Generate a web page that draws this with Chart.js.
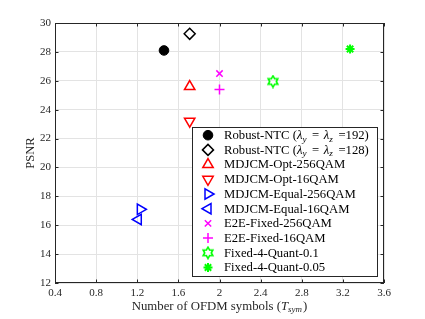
<!doctype html>
<html lang="en">
<head>
<meta charset="UTF-8" />
<title>PSNR vs OFDM symbols</title>
<script src="https://cdn.jsdelivr.net/npm/chart.js"></script>
<style>
  html, body { margin: 0; padding: 0; background: #fff; }
  .chart-container { position: relative; width: 425px; height: 319px; }
</style>
</head>
<body>
<div class="chart-container">
  <canvas id="psnrChart" width="425" height="319"></canvas>
</div>
<script>
const schemes = [
  'Robust-NTC (λ_y = λ_z =192)',
  'Robust-NTC (λ_y = λ_z =128)',
  'MDJCM-Opt-256QAM',
  'MDJCM-Opt-16QAM',
  'MDJCM-Equal-256QAM',
  'MDJCM-Equal-16QAM',
  'E2E-Fixed-256QAM',
  'E2E-Fixed-16QAM',
  'Fixed-4-Quant-0.1',
  'Fixed-4-Quant-0.05'
]
const symbols = [1.46, 1.71, 1.71, 1.71, 1.23, 1.21, 2.0, 2.0, 2.52, 3.27]
const psnr = [28.1, 29.25, 25.6, 23.2, 17.1, 16.4, 26.5, 25.4, 25.95, 28.2]
const xTicks = [0.4, 0.8, 1.2, 1.6, 2, 2.4, 2.8, 3.2, 3.6]
const yTicks = [12, 14, 16, 18, 20, 22, 24, 26, 28, 30]

const SERIF = '"Liberation Serif", "DejaVu Serif", serif'
const AXIS = '#262626'

// hexagram marker (MATLAB 'h')
function hexagram(color) {
  const c = document.createElement('canvas')
  c.width = 14
  c.height = 14
  const g = c.getContext('2d')
  const R = 5.6, r = R / Math.sqrt(3)
  g.beginPath()
  for (let k = 0; k < 12; k++) {
    const a = -Math.PI / 2 + k * Math.PI / 6
    const rr = k % 2 === 0 ? R : r
    const px = 7 + rr * Math.cos(a), py = 7 + rr * Math.sin(a)
    k === 0 ? g.moveTo(px, py) : g.lineTo(px, py)
  }
  g.closePath()
  g.strokeStyle = color
  g.lineWidth = 1.6
  g.stroke()
  return c
}

const markers = [
  { pointStyle: 'circle', radius: 4.8, color: '#000', fill: '#000', rotation: 0, width: 1 },
  { pointStyle: 'rectRot', radius: 5.5, color: '#000', fill: 'rgba(0,0,0,0)', rotation: 0, width: 1.5 },
  { pointStyle: 'triangle', radius: 6, color: '#ff0000', fill: 'rgba(0,0,0,0)', rotation: 0, width: 1.5 },
  { pointStyle: 'triangle', radius: 6, color: '#ff0000', fill: 'rgba(0,0,0,0)', rotation: 180, width: 1.5 },
  { pointStyle: 'triangle', radius: 6, color: '#0000ff', fill: 'rgba(0,0,0,0)', rotation: 90, width: 1.5 },
  { pointStyle: 'triangle', radius: 6, color: '#0000ff', fill: 'rgba(0,0,0,0)', rotation: 270, width: 1.5 },
  { pointStyle: 'crossRot', radius: 4.5, color: '#ff00ff', fill: 'rgba(0,0,0,0)', rotation: 0, width: 1.5 },
  { pointStyle: 'cross', radius: 5, color: '#ff00ff', fill: 'rgba(0,0,0,0)', rotation: 0, width: 1.5 },
  { pointStyle: hexagram('#00ff00'), radius: 6, color: '#00ff00', fill: 'rgba(0,0,0,0)', rotation: 0, width: 1.5 },
  { pointStyle: 'star', radius: 4.5, color: '#00ff00', fill: 'rgba(0,0,0,0)', rotation: 0, width: 2 }
]

// text with _x subscripts, λ in italic, wider spacing inside the math part
function drawRich(ctx, text, x, y, size) {
  const parts = text.split(/(_.|λ|\(.*)/)
  let cx = x
  const draw = (s, font, dy) => {
    ctx.font = font
    ctx.fillText(s, cx, y + dy)
    cx += ctx.measureText(s).width
  }
  parts.forEach(p => {
    if (!p) return
    if (p[0] === '(') {
      // math part: (λ_y = λ_z =192)
      p.split(/(_.|λ| )/).forEach(q => {
        if (!q) return
        if (q[0] === '_') { draw(q[1], `italic ${size * 0.72}px ${SERIF}`, size * 0.28); cx += 1 }
        else if (q === 'λ') draw(q, `italic ${size}px ${SERIF}`, 0)
        else if (q === ' ') cx += size * 0.36
        else draw(q, `${size}px ${SERIF}`, 0)
      })
    } else {
      draw(p, `${size}px ${SERIF}`, 0)
    }
  })
}

const matlabFrame = {
  id: 'matlabFrame',
  afterDraw(chart) {
    const ctx = chart.ctx
    const a = chart.chartArea
    const xs = chart.scales.x, ys = chart.scales.y
    ctx.save()
    // box
    ctx.strokeStyle = AXIS
    ctx.lineWidth = 1
    ctx.strokeRect(a.left + 0.5, a.top + 0.5, a.right - a.left - 1, a.bottom - a.top - 1)
    // inward ticks
    ctx.beginPath()
    xTicks.forEach(v => {
      const px = Math.round(xs.getPixelForValue(v)) + 0.5
      ctx.moveTo(px, a.bottom); ctx.lineTo(px, a.bottom - 3.5)
      ctx.moveTo(px, a.top); ctx.lineTo(px, a.top + 3.5)
    })
    yTicks.forEach(v => {
      const py = Math.round(ys.getPixelForValue(v)) + 0.5
      ctx.moveTo(a.left, py); ctx.lineTo(a.left + 3.5, py)
      ctx.moveTo(a.right, py); ctx.lineTo(a.right - 3.5, py)
    })
    ctx.stroke()

    // axis titles
    ctx.fillStyle = AXIS
    ctx.textBaseline = 'middle'
    ctx.save()
    ctx.translate(31, (a.top + a.bottom) / 2)
    ctx.rotate(-Math.PI / 2)
    ctx.textAlign = 'center'
    ctx.font = `12.5px ${SERIF}`
    ctx.fillText('PSNR', 0, 0)
    ctx.restore()

    ctx.textAlign = 'left'
    const size = 12.8
    ctx.font = `${size}px ${SERIF}`
    const p1 = 'Number of OFDM symbols ('
    const w1 = ctx.measureText(p1).width
    ctx.font = `italic ${size}px ${SERIF}`
    const wT = ctx.measureText('T').width
    ctx.font = `italic ${size * 0.7}px ${SERIF}`
    const wS = ctx.measureText('sym').width
    ctx.font = `${size}px ${SERIF}`
    const wP = ctx.measureText(')').width
    let tx = (a.left + a.right) / 2 - (w1 + wT + wS + wP + 1) / 2
    const ty = 307
    ctx.fillText(p1, tx, ty); tx += w1
    ctx.font = `italic ${size}px ${SERIF}`
    ctx.fillText('T', tx, ty); tx += wT
    ctx.font = `italic ${size * 0.7}px ${SERIF}`
    ctx.fillText('sym', tx, ty + 3); tx += wS + 1
    ctx.font = `${size}px ${SERIF}`
    ctx.fillText(')', tx, ty)

    // legend box
    const lx = 192.5, ly = 127.5, lw = 185, lh = 149
    ctx.fillStyle = '#fff'
    ctx.fillRect(lx, ly, lw, lh)
    ctx.strokeStyle = AXIS
    ctx.lineWidth = 1
    ctx.strokeRect(lx, ly, lw, lh)
    schemes.forEach((label, i) => {
      const rowY = 135.2 + i * 14.7
      const m = markers[i]
      ctx.fillStyle = m.fill
      ctx.strokeStyle = m.color
      ctx.lineWidth = m.width
      Chart.helpers.drawPoint(ctx, {
        pointStyle: m.pointStyle, rotation: m.rotation, radius: m.radius, borderWidth: m.width
      }, 208, rowY)
      ctx.fillStyle = '#000'
      ctx.textBaseline = 'middle'
      drawRich(ctx, label, 224, rowY + 0.5, 12.7)
    })
    ctx.restore()
  }
}

new Chart(document.getElementById('psnrChart'), {
  type: 'scatter',
  data: {
    datasets: schemes.map((label, i) => ({
      label: label,
      data: [{ x: symbols[i], y: psnr[i] }],
      pointStyle: markers[i].pointStyle,
      pointRotation: markers[i].rotation,
      pointRadius: markers[i].radius,
      pointBorderWidth: markers[i].width,
      borderColor: markers[i].color,
      backgroundColor: markers[i].fill
    }))
  },
  options: {
    responsive: false,
    animation: false,
    layout: { padding: { top: 23, right: 41, left: 0, bottom: 0 } },
    plugins: { legend: { display: false }, tooltip: { enabled: false } },
    scales: {
      x: {
        type: 'linear',
        min: 0.4,
        max: 3.6,
        afterBuildTicks: s => { s.ticks = xTicks.map(v => ({ value: v })) },
        afterFit: s => { s.height = 36 },
        grid: { color: '#e3e3e3', drawTicks: false },
        border: { display: false },
        ticks: {
          padding: 4,
          color: AXIS,
          font: { family: SERIF, size: 11 },
          callback: v => String(v)
        }
      },
      y: {
        type: 'linear',
        min: 12,
        max: 30,
        afterBuildTicks: s => { s.ticks = yTicks.map(v => ({ value: v })) },
        afterFit: s => { s.width = 55 },
        grid: { color: '#e3e3e3', drawTicks: false },
        border: { display: false },
        ticks: {
          padding: 4,
          color: AXIS,
          font: { family: SERIF, size: 11 },
          callback: v => String(v)
        }
      }
    }
  },
  plugins: [matlabFrame]
})
</script>
</body>
</html>
